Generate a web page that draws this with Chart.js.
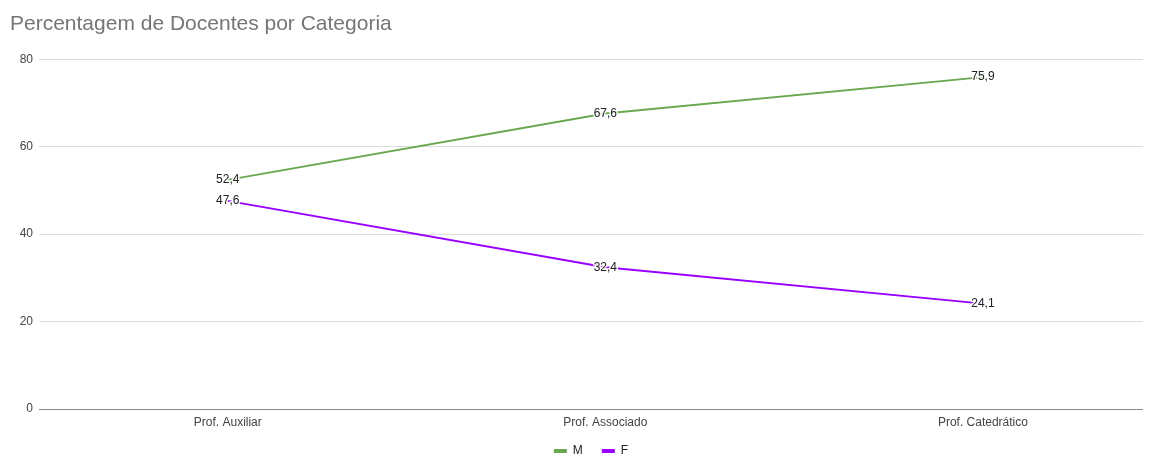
<!DOCTYPE html>
<html>
<head>
<meta charset="utf-8">
<script src="https://cdn.jsdelivr.net/npm/chart.js@4"></script>
<style>
  html, body { margin: 0; padding: 0; background: #fff; }
  #wrap { width: 1157px; height: 458px; position: relative; }
</style>
</head>
<body>
<div id="wrap"><canvas id="chart"></canvas></div>
<script>
const categories = ['Prof. Auxiliar', 'Prof. Associado', 'Prof. Catedrático'];
const seriesM = [52.4, 67.6, 75.9];
const seriesF = [47.6, 32.4, 24.1];
const yTicks = [0, 20, 40, 60, 80];

const fontFamily = 'Arial, "Liberation Sans", sans-serif';

function toPoints(values) {
  return values.map(function(v, i) { return { x: i, y: v }; });
}

// writes the value on each point, with a white halo behind the text
const valueLabels = {
  id: 'valueLabels',
  afterDatasetsDraw(chart) {
    const ctx = chart.ctx;
    ctx.save();
    ctx.font = '12px ' + fontFamily;
    ctx.textAlign = 'center';
    ctx.textBaseline = 'middle';
    ctx.lineJoin = 'round';
    chart.data.datasets.forEach(function(ds, di) {
      const meta = chart.getDatasetMeta(di);
      meta.data.forEach(function(pt, i) {
        const txt = ds.data[i].y.toFixed(1).replace('.', ',');
        ctx.lineWidth = 3;
        ctx.strokeStyle = 'rgba(255,255,255,0.9)';
        ctx.strokeText(txt, pt.x, pt.y);
        ctx.fillStyle = '#222';
        ctx.fillText(txt, pt.x, pt.y);
      });
    });
    ctx.restore();
  }
};

// legend: fixed height and centred under the plot area
const legendBox = {
  id: 'legendBox',
  beforeLayout(chart) {
    const lg = chart.legend;
    if (lg && !lg._fixedFit) {
      const fit = lg.fit;
      lg.fit = function() {
        fit.call(this);
        this.height = 32;
      };
      lg._fixedFit = true;
    }
  },
  afterLayout(chart) {
    const lg = chart.legend;
    const area = chart.chartArea;
    const shift = (area.left + area.right) / 2 - (lg.left + lg.right) / 2;
    lg.left += shift * 2;
  }
};

const chartData = {
  datasets: [{
    label: 'M',
    data: toPoints(seriesM),
    borderColor: '#6aa84f',
    backgroundColor: '#6aa84f',
    borderWidth: 2,
    pointRadius: 0
  }, {
    label: 'F',
    data: toPoints(seriesF),
    borderColor: '#9900ff',
    backgroundColor: '#9900ff',
    borderWidth: 2,
    pointRadius: 0
  }]
};

const config = {
  type: 'line',
  data: chartData,
  options: {
    responsive: true,
    maintainAspectRatio: false,
    animation: false,
    layout: { padding: { left: 10, right: 14, top: 0, bottom: 0 } },
    plugins: {
      title: {
        display: true,
        text: 'Percentagem de Docentes por Categoria',
        align: 'start',
        color: '#757575',
        font: { family: fontFamily, size: 21, weight: 'normal' },
        padding: { top: 12, bottom: 22 }
      },
      legend: {
        position: 'bottom',
        labels: {
          boxWidth: 13,
          boxHeight: 4,
          padding: 19,
          color: '#222',
          font: { family: fontFamily, size: 12 },
          generateLabels: function(chart) {
            const items = Chart.defaults.plugins.legend.labels.generateLabels(chart);
            items.forEach(function(it) { it.lineWidth = 0; });
            return items;
          }
        }
      },
      tooltip: { enabled: false }
    },
    scales: {
      x: {
        type: 'linear',
        min: -0.5,
        max: 2.424,
        grid: { display: false, drawTicks: false },
        border: { display: false },
        afterBuildTicks: function(scale) {
          scale.ticks = categories.map(function(c, i) { return { value: i }; });
        },
        afterFit: function(scale) { scale.height = 17; },
        ticks: {
          color: '#444',
          padding: 6,
          font: { family: fontFamily, size: 12 },
          callback: function(v) { return categories[v]; }
        }
      },
      y: {
        min: 0,
        max: 80,
        afterBuildTicks: function(scale) {
          scale.ticks = yTicks.map(function(v) { return { value: v }; });
        },
        afterFit: function(scale) { scale.width = 29; },
        border: { display: false },
        grid: {
          drawTicks: false,
          color: function(c) { return c.tick && c.tick.value === 0 ? '#888' : '#dcdcdc'; }
        },
        ticks: {
          color: '#444',
          padding: 6,
          font: { family: fontFamily, size: 12 }
        }
      }
    }
  },
  plugins: [valueLabels, legendBox]
};

new Chart(document.getElementById('chart').getContext('2d'), config);
</script>
</body>
</html>
